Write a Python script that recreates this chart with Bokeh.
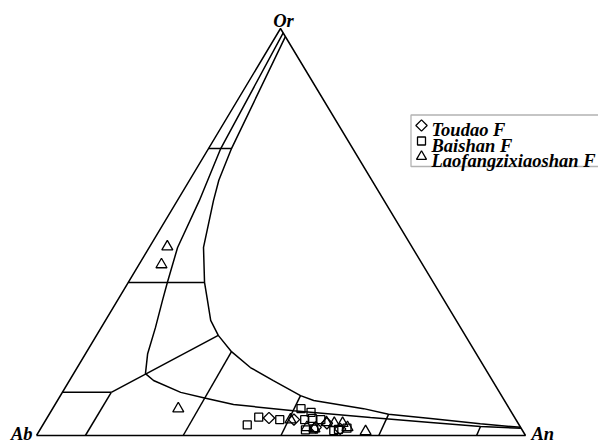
import numpy as np
from bokeh.plotting import figure
from bokeh.models import Range1d, BoxAnnotation
from bokeh.core.properties import value
from bokeh.embed import file_html
from bokeh.resources import INLINE

# ---------------- data (ternary percentages: Or, An; Ab = 100 - Or - An) ----------------
# inner boundary curve (left / lower one)
curve_b_or = [98.9, 70.5, 57.7, 46.2, 37.6, 33.2, 26.5, 20.1, 15.2, 13.5, 10.6, 9.3, 7.6, 6.1, 4.4, 3.2, 2.2, 1.8]
curve_b_an = [1.1, 2.5, 4.5, 5.8, 8.0, 9.2, 11.1, 12.7, 14.7, 17.2, 24.2, 29.5, 36.5, 49.5, 66.1, 79.0, 89.7, 98.2]
# outer boundary curve (right / upper one)
curve_c_or = [98.0, 70.5, 62.7, 57.7, 46.2, 37.6, 33.2, 28.3, 24.6, 20.6, 16.7, 13.5, 9.8, 8.6, 6.6, 5.2, 4.2, 2.9, 2.0]
curve_c_an = [2.0, 4.7, 6.0, 7.4, 11.1, 15.6, 18.4, 21.5, 24.9, 29.6, 35.4, 41.7, 49.1, 52.4, 63.6, 69.4, 78.5, 89.3, 98.0]
# straight field boundaries: (Or0, An0) -> (Or1, An1)
seg_or0 = [70.5, 37.6, 24.6, 10.6, 10.6, 20.6, 9.8, 5.2, 2.2]
seg_an0 = [0.0, 0.0, 24.9, 0.0, 10.0, 29.6, 49.1, 69.4, 89.7]
seg_or1 = [70.5, 37.6, 10.6, 10.6, 0.0, 0.0, 0.0, 0.0, 0.0]
seg_an1 = [4.7, 15.6, 10.0, 10.0, 10.0, 30.0, 50.0, 70.0, 90.0]

# samples
toudao_or = [4.3, 3.9, 2.0, 3.0, 1.6]
toudao_an = [45.4, 50.7, 56.1, 57.9, 61.3]
baishan_or = [2.6, 4.5, 3.9, 6.6, 5.7, 4.2, 3.9, 3.9, 1.4, 1.6, 1.2, 1.8, 1.5]
baishan_an = [41.8, 43.2, 47.8, 50.8, 53.3, 54.3, 52.9, 56.2, 54.3, 55.9, 60.2, 62.6, 61.0]
laofang_or = [46.4, 42.0, 6.6, 1.0, 3.9, 2.0, 3.0, 3.0, 3.2, 1.7, 2.0]
laofang_an = [3.6, 4.6, 25.7, 66.8, 50.0, 54.3, 59.4, 61.1, 57.7, 56.0, 62.6]

series_names = ["Toudao F", "Baishan F", "Laofangzixiaoshan F"]
vertex_labels = ["Or", "Ab", "An"]

# ---------------- layout ----------------
AB = (36.0, 435.0)
AN = (525.0, 435.0)
OR = (280.0, 28.0)


def tern(or_pct, an_pct):
    o = np.asarray(or_pct, dtype=float) / 100.0
    a = np.asarray(an_pct, dtype=float) / 100.0
    x = AB[0] + a * (AN[0] - AB[0]) + o * (OR[0] - AB[0])
    y = AB[1] + a * (AN[1] - AB[1]) + o * (OR[1] - AB[1])
    return x, y


p = figure(width=598, height=443, output_backend="svg", toolbar_location=None,
           x_range=Range1d(0, 598), y_range=Range1d(443, 0),
           min_border=0, background_fill_color="white", border_fill_color="white")
p.axis.visible = False
p.grid.visible = False
p.outline_line_color = None

LW = 1.5
FONT = value("Liberation Serif")

# triangle outline
tx, ty = tern([0, 0, 100, 0], [0, 100, 0, 0])
p.line(tx, ty, line_color="black", line_width=LW)

# boundary curves
bx, by = tern(curve_b_or, curve_b_an)
p.line(bx, by, line_color="black", line_width=LW)
cx, cy = tern(curve_c_or, curve_c_an)
p.line(cx, cy, line_color="black", line_width=LW)

# straight segments
x0, y0 = tern(seg_or0, seg_an0)
x1, y1 = tern(seg_or1, seg_an1)
p.multi_line([[a, b] for a, b in zip(x0, x1)], [[a, b] for a, b in zip(y0, y1)],
             line_color="black", line_width=LW)

# samples
mk = dict(fill_color=None, line_color="black", line_width=1.3)
x, y = tern(baishan_or, baishan_an)
p.scatter(x, y, marker="square", size=8, **mk)
x, y = tern(laofang_or, laofang_an)
p.scatter(x, y, marker="triangle", size=11, **mk)
x, y = tern(toudao_or, toudao_an)
p.scatter(x, y, marker="square", angle=np.pi / 4, size=8, **mk)

# vertex labels
lab = dict(text_font=FONT, text_font_style="bold italic", text_font_size="18.5px", text_color="black")
p.text([283], [20.5], text=[vertex_labels[0]], text_align="center", text_baseline="alphabetic", **lab)
p.text([32], [443], text=[vertex_labels[1]], text_align="right", text_baseline="bottom", **lab)
p.text([531], [443], text=[vertex_labels[2]], text_align="left", text_baseline="bottom", **lab)

# legend (drawn manually)
p.add_layout(BoxAnnotation(left=410.5, right=605, top=114.5, bottom=166,
                           fill_color=None, line_color="black", line_width=1.3))
leg_y = [129.5, 145.0, 160.5]
leg_marker = [("square", np.pi / 4, 8), ("square", 0.0, 8), ("triangle", 0.0, 10)]
for (m, ang, s), yy, name in zip(leg_marker, leg_y, series_names):
    p.scatter([421], [yy - 4.5], marker=m, angle=ang, size=s, **mk)
    p.text([431], [yy], text=[name], text_align="left", text_baseline="alphabetic", **lab)

open("out.html", "w").write(file_html(p, INLINE))
